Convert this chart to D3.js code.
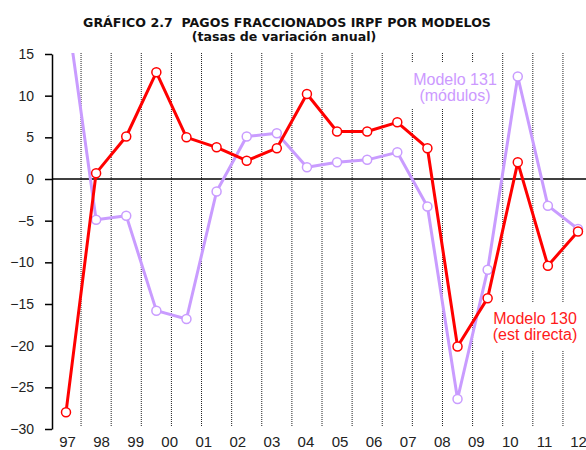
<!DOCTYPE html>
<html>
<head>
<meta charset="utf-8">
<script src="https://cdn.jsdelivr.net/npm/d3@7"></script>
<style>
  body { margin: 0; background: #fff; }
  text { font-family: "Liberation Sans", Arial, sans-serif; }
</style>
</head>
<body>
<div id="chart"></div>
<script>
// periods (18 observations) and year labels (16)
const periods = d3.range(18);
const years = ["97", "98", "99", "00", "01", "02", "03", "04", "05", "06", "07", "08", "09", "10", "11", "12"];

// Modelo 130 (estimación directa)
const modelo130 = [-28.0, 0.7, 5.1, 12.8, 5.0, 3.8, 2.2, 3.7, 10.2, 5.7, 5.7, 6.8, 3.7, -20.1, -14.3, 2.0, -10.4, -6.3];
// Modelo 131 (módulos)
const modelo131 = [21.0, -4.9, -4.4, -15.8, -16.8, -1.5, 5.1, 5.5, 1.4, 2.0, 2.3, 3.2, -3.3, -26.4, -10.9, 12.3, -3.2, -6.0];

const yTicks = [15, 10, 5, 0, -5, -10, -15, -20, -25, -30];

const width = 586, height = 450;
const margin = {left: 52, top: 54, bottom: 429};

const svg = d3.select("#chart").append("svg")
    .attr("width", width)
    .attr("height", height);

// title
svg.append("text")
    .attr("x", 287).attr("y", 27)
    .attr("text-anchor", "middle")
    .style("font-family", "'DejaVu Sans', Verdana, sans-serif")
    .style("font-weight", "bold")
    .style("font-size", "12.6px")
    .style("white-space", "pre")
    .attr("fill", "#111")
    .text("GRÁFICO 2.7  PAGOS FRACCIONADOS IRPF POR MODELOS");
svg.append("text")
    .attr("x", 284).attr("y", 41)
    .attr("text-anchor", "middle")
    .style("font-family", "'DejaVu Sans', Verdana, sans-serif")
    .style("font-weight", "bold")
    .style("font-size", "12.6px")
    .attr("fill", "#111")
    .text("(tasas de variación anual)");

// scales
let xScale = d3.scalePoint().domain(periods).range([66, 578]);
let xLabel = d3.scalePoint().domain(years).range([67, 578]);
let yScale = d3.scaleLinear().domain([-30, 15]).range([margin.bottom, margin.top]);

svg.append("defs").append("clipPath")
    .attr("id", "clip")
    .append("rect")
    .attr("x", margin.left).attr("y", margin.top - 1)
    .attr("width", width - margin.left).attr("height", margin.bottom - margin.top + 2);

// dotted separators between periods
svg.append("g")
    .selectAll("line")
    .data(periods.slice(0, -1))
    .join("line")
    .attr("x1", d => xScale(d) + xScale.step() / 2)
    .attr("x2", d => xScale(d) + xScale.step() / 2)
    .attr("y1", margin.top - 1)
    .attr("y2", margin.bottom - 2)
    .attr("stroke", "#222")
    .attr("stroke-width", 1)
    .attr("stroke-dasharray", "1,1");

// y axis
let yAxis = d3.axisLeft(yScale)
    .tickValues(yTicks)
    .tickSize(7)
    .tickSizeOuter(0)
    .tickPadding(11)
    .tickFormat(d3.format("d"));

let gy = svg.append("g")
    .attr("transform", "translate(" + margin.left + ",0)")
    .call(yAxis);
gy.select(".domain").attr("stroke", "#000").attr("stroke-width", 1.5);
gy.selectAll(".tick line").attr("stroke", "#000").attr("stroke-width", 1.5);
gy.selectAll(".tick text")
    .style("font-size", "14px")
    .attr("fill", "#222");

// zero line
svg.append("line")
    .attr("x1", margin.left).attr("x2", width)
    .attr("y1", yScale(0)).attr("y2", yScale(0))
    .attr("stroke", "#000")
    .attr("stroke-width", 1.5);

// x labels
let xAxis = d3.axisBottom(xLabel).tickSize(0).tickPadding(0);
let gx = svg.append("g")
    .attr("transform", "translate(0,436)")
    .call(xAxis);
gx.select(".domain").remove();
gx.selectAll(".tick text")
    .style("font-size", "15px")
    .attr("fill", "#222");

// annotation boxes (white, they hide the dotted separators)
let notes = [
    {lines: ["Modelo 131", "(módulos)"], x: 455, y: 85, color: "#cc99ff", box: [404, 63, 95, 45]},
    {lines: ["Modelo 130", "(est directa)"], x: 535, y: 324, color: "#ff1a1a", box: [488, 303, 93, 47]}
];
notes.forEach(n => {
    svg.append("rect")
        .attr("x", n.box[0]).attr("y", n.box[1])
        .attr("width", n.box[2]).attr("height", n.box[3])
        .attr("fill", "#fff");
});

// series
const series = [
    {values: modelo131, color: "#c99cff"},
    {values: modelo130, color: "#ff0000"}
];

let plot = svg.append("g").attr("clip-path", "url(#clip)");

let line = d3.line()
    .x((d, i) => xScale(periods[i]))
    .y(d => yScale(d));

series.forEach(s => {
    plot.append("path")
        .datum(s.values)
        .attr("fill", "none")
        .attr("stroke", s.color)
        .attr("stroke-width", 3)
        .attr("stroke-linejoin", "round")
        .attr("d", line);

    plot.append("g")
        .selectAll("circle")
        .data(s.values)
        .join("circle")
        .attr("cx", (d, i) => xScale(periods[i]))
        .attr("cy", d => yScale(d))
        .attr("r", 4.5)
        .attr("fill", "#fff")
        .attr("stroke", s.color)
        .attr("stroke-width", 1.5);
});

// annotation texts
notes.forEach(n => {
    let t = svg.append("text")
        .attr("text-anchor", "middle")
        .attr("fill", n.color)
        .style("font-size", "16px");
    n.lines.forEach((l, i) => {
        t.append("tspan")
            .attr("x", n.x)
            .attr("y", n.y + i * 16)
            .text(l);
    });
});
</script>
</body>
</html>
